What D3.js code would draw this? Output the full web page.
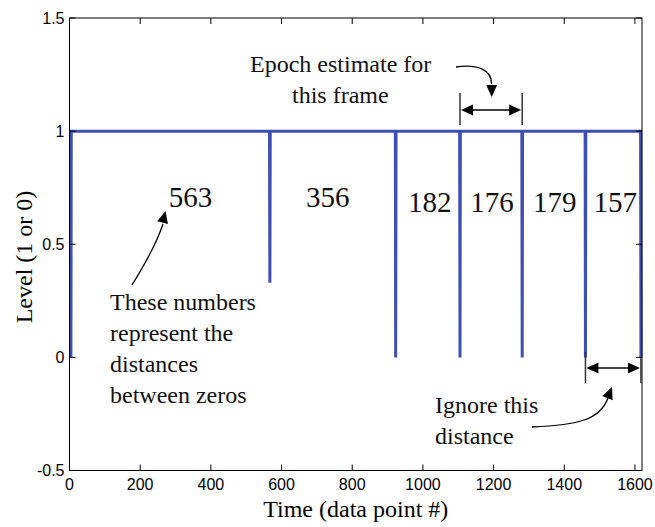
<!DOCTYPE html>
<html>
<head>
<meta charset="utf-8">
<script src="https://cdn.jsdelivr.net/npm/d3@7"></script>
<style>
  html, body { margin: 0; padding: 0; background: #fff; }
  svg { display: block; }
</style>
</head>
<body>
<svg id="chart" width="655" height="527"></svg>
<script>
// Zero-crossing signal: the level is 1 everywhere except at the zero samples.
const firstZero = 4;                              // index of the first zero sample
const distances = [563, 356, 182, 176, 179, 157]; // samples between successive zeros
const dipLevels = [0, 0.33, 0, 0, 0, 0, 0];        // level reached at each zero sample
const xTicks = [0, 200, 400, 600, 800, 1000, 1200, 1400, 1600];
const yTicks = [-0.5, 0, 0.5, 1, 1.5];
const xDomain = [0, 1620];
const yDomain = [-0.5, 1.5];

// zero positions follow from the distances
const zeros = [firstZero];
distances.forEach(d => zeros.push(zeros[zeros.length - 1] + d));

// build the sampled signal around each zero
const signal = [];
zeros.forEach((z, i) => {
  if (i > 0) signal.push({ t: z - 1, v: 1 });
  signal.push({ t: z, v: dipLevels[i] });
  if (i < zeros.length - 1) signal.push({ t: z + 1, v: 1 });
});

const svg = d3.select("#chart");
const plotL = 69.5, plotR = 642, plotT = 18, plotB = 470.5;
const x = d3.scaleLinear().domain(xDomain).range([plotL, plotR]);
const y = d3.scaleLinear().domain(yDomain).range([plotB, plotT]);

const serif = "'Liberation Serif', 'Times New Roman', serif";
const sans = "'Liberation Sans', Arial, sans-serif";

svg.append("rect").attr("width", 655).attr("height", 527).attr("fill", "#fff");

// signal trace
svg.append("path")
  .datum(signal)
  .attr("fill", "none")
  .attr("stroke", "#3d4fb3")
  .attr("stroke-width", 3)
  .attr("stroke-linejoin", "miter")
  .attr("d", d3.line().x(d => x(d.t)).y(d => y(d.v)));

// axes box with inward ticks on all sides
const tickLen = 6;
const axisG = svg.append("g").attr("stroke", "#000").attr("stroke-width", 1).attr("fill", "none");
axisG.append("rect").attr("x", plotL).attr("y", plotT).attr("width", plotR - plotL).attr("height", plotB - plotT);
xTicks.forEach(t => {
  axisG.append("line").attr("x1", x(t)).attr("x2", x(t)).attr("y1", plotB).attr("y2", plotB - tickLen);
  axisG.append("line").attr("x1", x(t)).attr("x2", x(t)).attr("y1", plotT).attr("y2", plotT + tickLen);
});
yTicks.forEach(t => {
  axisG.append("line").attr("x1", plotL).attr("x2", plotL + tickLen).attr("y1", y(t)).attr("y2", y(t));
  axisG.append("line").attr("x1", plotR).attr("x2", plotR - tickLen).attr("y1", y(t)).attr("y2", y(t));
});

// tick labels
svg.append("g").selectAll("text").data(xTicks).join("text")
  .attr("x", d => x(d)).attr("y", plotB + 19.5)
  .attr("text-anchor", "middle")
  .attr("font-family", sans).attr("font-size", 16).attr("fill", "#000")
  .text(d => d);
svg.append("g").selectAll("text").data(yTicks).join("text")
  .attr("x", plotL - 5).attr("y", d => y(d)).attr("dy", "0.36em")
  .attr("text-anchor", "end")
  .attr("font-family", sans).attr("font-size", 16).attr("fill", "#000")
  .text(d => d);

// axis titles
svg.append("text")
  .attr("x", (plotL + plotR) / 2).attr("y", 517)
  .attr("text-anchor", "middle")
  .attr("font-family", serif).attr("font-size", 24).attr("fill", "#000")
  .text("Time (data point #)");
svg.append("text")
  .attr("transform", "translate(32,257) rotate(-90)")
  .attr("text-anchor", "middle")
  .attr("font-family", serif).attr("font-size", 24).attr("fill", "#000")
  .text("Level (1 or 0)");

// distance labels, centred between zeros
const labelNudgeX = [20, -5, 2, 1, 1, 2];
const labelBaseline = [207, 207, 212, 212, 212, 212];
svg.append("g").selectAll("text").data(distances).join("text")
  .attr("x", (d, i) => (x(zeros[i]) + x(zeros[i + 1])) / 2 + labelNudgeX[i])
  .attr("y", (d, i) => labelBaseline[i])
  .attr("text-anchor", "middle")
  .attr("font-family", serif).attr("font-size", 29).attr("fill", "#111")
  .text(d => d);

// annotation helpers
const ann = svg.append("g");
function arrowHead(tipX, tipY, angleDeg, len = 12, half = 5.5) {
  const a = angleDeg * Math.PI / 180;
  const bx = tipX - len * Math.cos(a), by = tipY - len * Math.sin(a);
  const px = -Math.sin(a) * half, py = Math.cos(a) * half;
  ann.append("path")
    .attr("d", `M${tipX},${tipY}L${bx + px},${by + py}L${bx - px},${by - py}Z`)
    .attr("fill", "#000");
}
function note(lines, step) {
  lines.forEach((l, i) => ann.append("text")
    .attr("x", l.x).attr("y", l.y + i * step)
    .attr("font-family", serif).attr("font-size", 24).attr("fill", "#111")
    .text(l.s));
}
function dimension(z0, z1, yTop0, yTop1, yBot, yArrow) {
  const x0 = x(z0), x1 = x(z1);
  ann.append("line").attr("x1", x0).attr("x2", x0).attr("y1", yTop0).attr("y2", yBot)
    .attr("stroke", "#333").attr("stroke-width", 1.5);
  ann.append("line").attr("x1", x1).attr("x2", x1).attr("y1", yTop1).attr("y2", yBot)
    .attr("stroke", "#333").attr("stroke-width", 1.5);
  ann.append("line").attr("x1", x0 + 10).attr("x2", x1 - 10).attr("y1", yArrow).attr("y2", yArrow)
    .attr("stroke", "#000").attr("stroke-width", 1.3);
  arrowHead(x0 + 1, yArrow, 180);
  arrowHead(x1 - 1, yArrow, 0);
}

// "These numbers ..." note with arrow towards the first label
note([{ s: "These numbers", x: 110, y: 310 }, { s: "represent the", x: 110, y: 310 },
      { s: "distances", x: 110, y: 310 }, { s: "between zeros", x: 110, y: 310 }], 31);
ann.append("path")
  .attr("d", "M132,285 Q155,248 163,224")
  .attr("fill", "none").attr("stroke", "#000").attr("stroke-width", 1.3);
arrowHead(165.5, 211, -76);

// epoch estimate for the frame
note([{ s: "Epoch estimate for", x: 250, y: 72 }, { s: "this frame", x: 292, y: 72 }], 31);
ann.append("path")
  .attr("d", "M456,67 C478,64 492,70 491.5,84")
  .attr("fill", "none").attr("stroke", "#000").attr("stroke-width", 1.3);
arrowHead(491.7, 97, 90);
dimension(zeros[3], zeros[4], 93, 93, 125, 110);

// ignored final distance
note([{ s: "Ignore this", x: 435, y: 413 }, { s: "distance", x: 435, y: 413 }], 31);
ann.append("path")
  .attr("d", "M532,427 C578,425 600,420 608,398")
  .attr("fill", "none").attr("stroke", "#000").attr("stroke-width", 1.3);
arrowHead(612, 387, -68);
dimension(zeros[5], zeros[6], 352, 358, 383, 368);
</script>
</body>
</html>
